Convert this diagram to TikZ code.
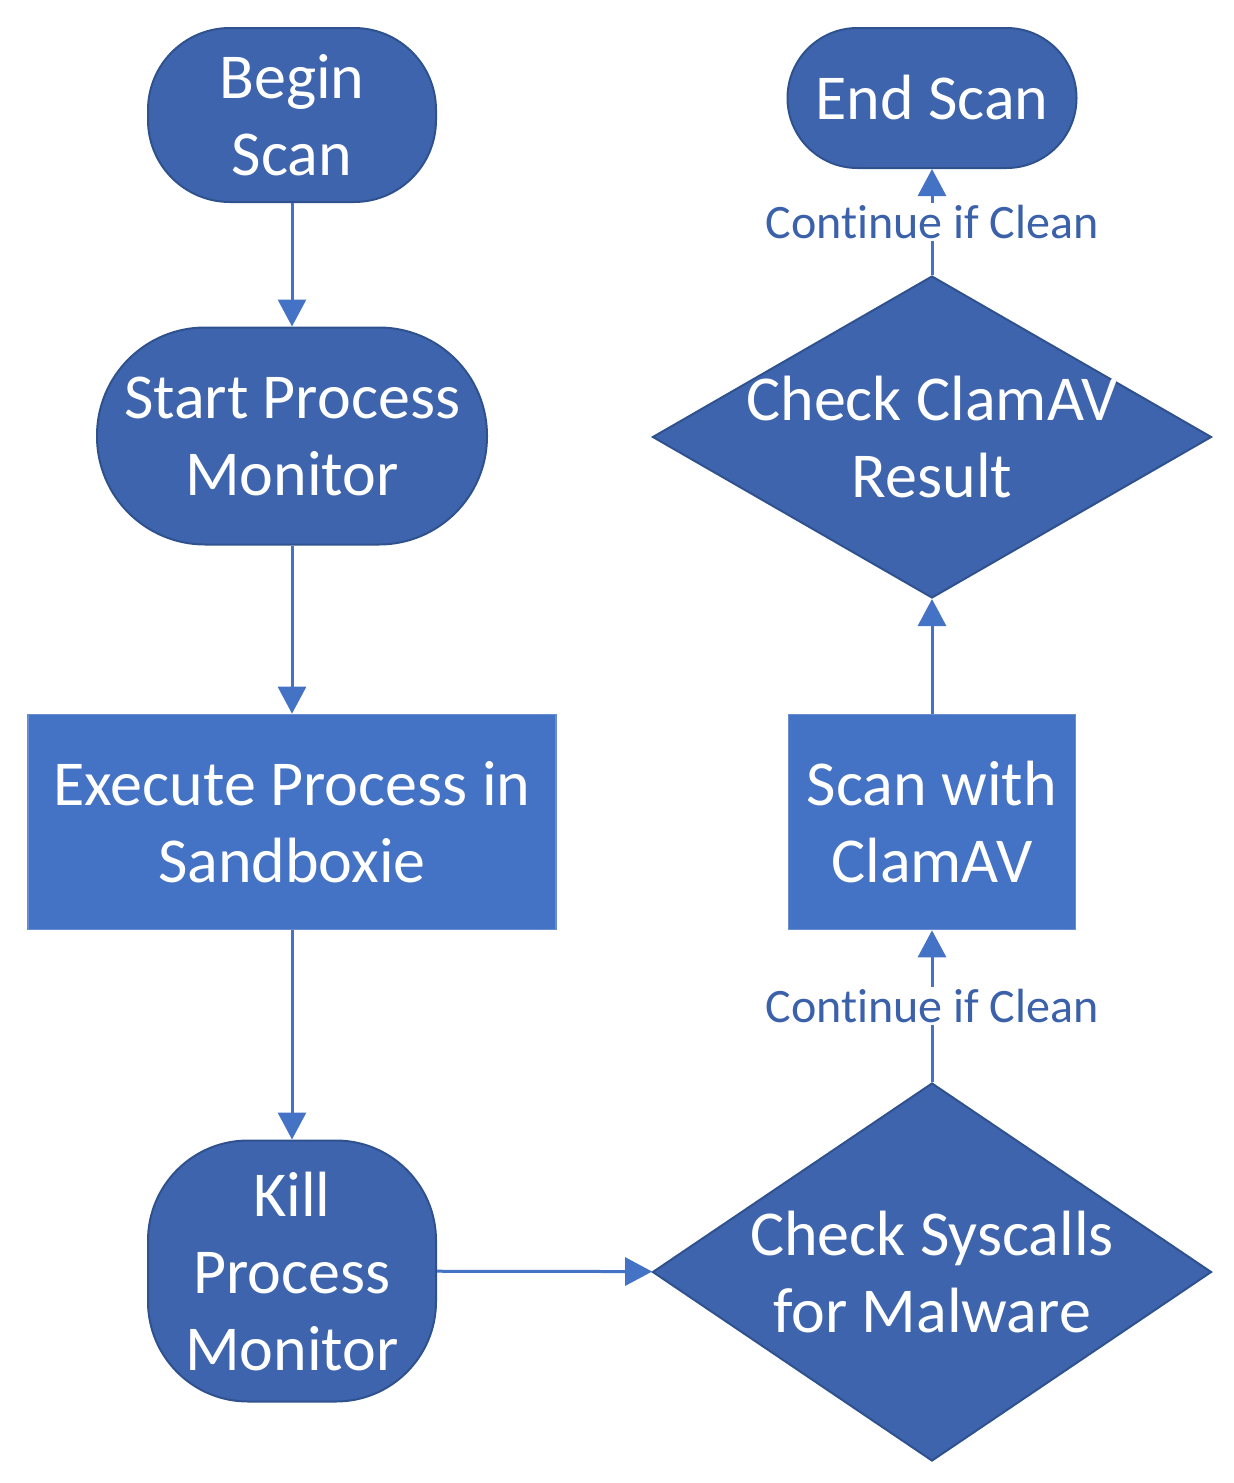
\documentclass[tikz,border=0pt]{standalone}
\usepackage{fontspec}
\setmainfont{Carlito}[RawFeature={-liga;-clig;-dlig;-calt}]
\usetikzlibrary{arrows.meta,shapes.geometric}
\definecolor{shapeblue}{HTML}{3E64AD}
\definecolor{boxblue}{HTML}{4472C4}
\definecolor{edgeblue}{HTML}{2F528F}
\definecolor{linkblue}{HTML}{4472C4}
\definecolor{notetext}{HTML}{3B61AA}
\begin{document}
\begin{tikzpicture}[x=0.5pt,y=-0.5pt]
	\tikzstyle{words}=[text=white,align=center,font=\fontsize{32}{38.5}\selectfont]
	\tikzstyle{terminal}=[words,rectangle,draw=edgeblue,fill=shapeblue,line width=1pt,inner sep=0pt]
	\tikzstyle{process}=[words,rectangle,draw=boxblue!80!white,fill=boxblue,line width=0.8pt,inner sep=0pt]
	\tikzstyle{decision}=[diamond,draw=edgeblue,fill=shapeblue,line width=1pt,inner sep=0pt]
	\tikzstyle{flow}=[linkblue,line width=1.5pt,-{Triangle[length=13.5pt,width=14pt]}]
	\tikzstyle{note}=[fill=white,text=notetext,inner sep=1pt,font=\fontsize{24}{28}\selectfont]
	\useasboundingbox (0,0) rectangle (1233,1483);
	\node (begin)    at (292,115)  [terminal,minimum width=144pt,minimum height=87pt,rounded corners=41pt] {Begin\\Scan};
	\node (start)    at (292,436)  [terminal,minimum width=195pt,minimum height=108.5pt,rounded corners=54pt] {Start Process\\Monitor};
	\node (exec)     at (292,822)  [process,minimum width=264pt,minimum height=107.5pt] {Execute Process in\\Sandboxie};
	\node (kill)     at (292,1271) [terminal,minimum width=144pt,minimum height=130.5pt,rounded corners=50pt] {Kill\\Process\\Monitor};
	\node (syscalls) at (932,1272) [decision,minimum width=279.5pt,minimum height=189pt,
		label={[words]center:{Check Syscalls\\for Malware}}] {};
	\node (scan)     at (932,822)  [process,minimum width=143.5pt,minimum height=107.5pt] {Scan with\\ClamAV};
	\node (result)   at (932,437)  [decision,minimum width=279.5pt,minimum height=161pt,
		label={[words]center:{Check ClamAV\\Result}}] {};
	\node (endscan)  at (932,98)   [terminal,minimum width=144.5pt,minimum height=70pt,rounded corners=35pt] {End Scan};
	\draw [flow] (begin)  -- (start);
	\draw [flow] (start)  -- (exec);
	\draw [flow] (exec)   -- (kill);
	\draw [flow] (kill)   -- (syscalls);
	\draw [flow] (syscalls) -- (scan) node (clean1) [note,midway] {Continue if Clean};
	\draw [flow] (scan)   -- (result);
	\draw [flow] (result) -- (endscan) node (clean2) [note,midway] {Continue if Clean};
\end{tikzpicture}
\end{document}
